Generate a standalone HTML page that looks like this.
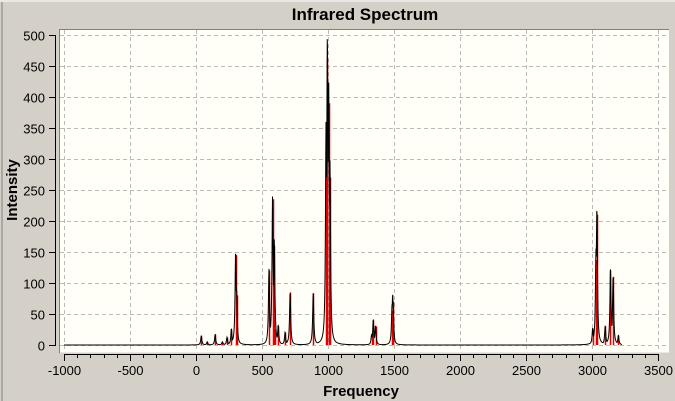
<!DOCTYPE html>
<html><head><meta charset="utf-8"><style>
html,body{margin:0;padding:0;background:#d4d0c8;}
svg{display:block;font-family:"Liberation Sans",sans-serif;}
</style></head><body>
<svg id="chart" width="675" height="401">
<rect x="0" y="0" width="675" height="401" fill="#d4d0c8"/>
<line x1="0" y1="1" x2="675" y2="1" stroke="#fff" stroke-width="1"/>
<line x1="2" y1="2" x2="2" y2="401" stroke="#808080" stroke-width="1"/>
<text x="365" y="20" text-anchor="middle" font-size="17" font-weight="bold">Infrared Spectrum</text>
<rect x="60" y="29.5" width="609" height="323" fill="#fffff8"/>
<line x1="60" y1="29.5" x2="669" y2="29.5" stroke="#808080"/>
<line x1="59.5" y1="29" x2="59.5" y2="353" stroke="#808080"/>
<g id="grid"></g>
<g id="sticks"></g>
<g id="curve"></g>
<g id="yaxis"></g>
<g id="xaxis"></g>
<text x="0" y="0" transform="translate(17,190) rotate(-90)" text-anchor="middle" font-size="15" font-weight="bold">Intensity</text>
<text x="361" y="396" text-anchor="middle" font-size="15" font-weight="bold">Frequency</text>
</svg>
<script>
const freqs = [40,85,145,200,235,268,300,308,553,580,593,600,623,675,713,888,985,995,1005,1015,1330,1343,1360,1485,1490,1495,3005,3030,3037,3100,3140,3160,3200];
const intens = [15,5,17,5,12,25,145,80,120,235,160,25,30,20,85,83,330,462,390,270,15,40,30,55,70,40,25,137,210,30,120,110,15];
const xTicks = [-1000,-500,0,500,1000,1500,2000,2500,3000,3500];
const yTicks = [0,50,100,150,200,250,300,350,400,450,500];
const NS="http://www.w3.org/2000/svg";
const X = f => 64 + (f + 1000) * (594/4500);
const Y = v => 345 - v * 0.62;
function mk(tag, attrs, parent){const e=document.createElementNS(NS,tag);for(const k in attrs)e.setAttribute(k,attrs[k]);parent.appendChild(e);return e;}
const grid=document.getElementById('grid'), yax=document.getElementById('yaxis'), xax=document.getElementById('xaxis');
yTicks.forEach(v=>{
  const y=Math.round(Y(v))+0.5;
  const g=mk('line',{x1:60,x2:669,y1:y,y2:y,stroke:'#bbb','stroke-dasharray':'4,3'},grid);
  
  
  mk('line',{x1:49,x2:56,y1:y,y2:y,stroke:'#000'},yax);
  const t=mk('text',{x:45,y:y+5,'text-anchor':'end','font-size':'13'},yax);
  t.textContent=v;
  
  
});
mk('line',{x1:55.5,x2:55.5,y1:Math.round(Y(500))+0.5,y2:Math.round(Y(0))+0.5,stroke:'#000'},yax);
xTicks.forEach(f=>{
  const x=Math.round(X(f))+0.5;
  const g=mk('line',{x1:x,x2:x,y1:30,y2:352,stroke:'#bbb','stroke-dasharray':'4,3'},grid);
  
  
  const t=mk('text',{x:x,y:375,'text-anchor':'middle','font-size':'13'},xax);
  t.textContent=f;
  
  
});
mk('line',{x1:Math.round(X(-1000)),x2:Math.round(X(3500))+1,y1:354.5,y2:354.5,stroke:'#000'},xax);
for(let f=-1000;f<=3500;f+=100){
  const x=Math.round(X(f))+0.5;
  mk('line',{x1:x,x2:x,y1:354,y2:(f%500===0)?361:358,stroke:'#000'},xax);
}
const hw=5;
let d='';
for(let px=Math.round(X(-1000)); px<=Math.round(X(3230)); px+=0.25){
  const f=(px-64)*4500/594-1000;
  let s=0, m=0;
  for(let i=0;i<freqs.length;i++){const u=(f-freqs[i])/hw; const v=intens[i]/(1+u*u); s+=v; if(v>m)m=v;}
  const val=m+0.25*(s-m);
  d+=(d?'L':'M')+px.toFixed(2)+','+Y(Math.min(val,500)).toFixed(2);
}
const c=mk('path',{d:d,fill:'none',stroke:'#000','stroke-width':1},document.getElementById('curve'));


const sg=document.getElementById('sticks');
freqs.forEach((f,i)=>{
  const x=Math.round(X(f))+0.5;
  const l=mk('line',{x1:x,x2:x,y1:Y(0),y2:Y(intens[i]),stroke:'#e00000','stroke-width':1.5},sg);
  
  
});
</script>
</body></html>
